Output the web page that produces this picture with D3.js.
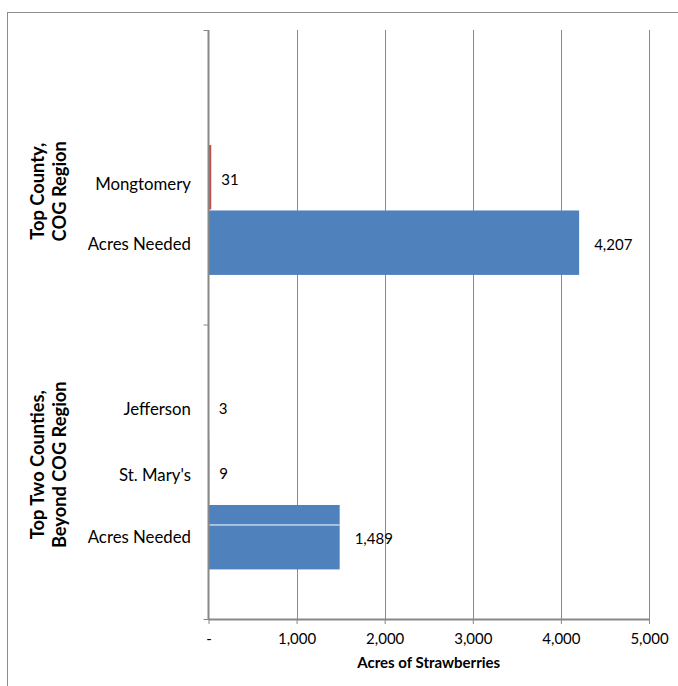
<!DOCTYPE html>
<html><head><meta charset="utf-8">
<script src="https://cdn.jsdelivr.net/npm/d3@7"></script>
<style>body{margin:0;background:#fff}svg{display:block;font-family:Lato,"Open Sans",sans-serif}</style>
</head><body><svg id="c" width="678" height="686"></svg>
<script>
const groups = ["Top County,\nCOG Region", "Top Two Counties,\nBeyond COG Region"];
const groupCats = [["", "Mongtomery", "Acres Needed"], ["Jefferson", "St. Mary's", "Acres Needed"]];
const groupValues = [[null, 31, 4207], [3, 9, 1489]];
const groupSeries = [[null, "county", "needed"], ["county", "county", "needed"]];
const valueLabels = [[null, "31", "4,207"], ["3", "9", "1,489"]];
const xTicks = [0, 1000, 2000, 3000, 4000, 5000];
const xTickLabels = ["-", "1,000", "2,000", "3,000", "4,000", "5,000"];
const colors = {county: "#C0504D", needed: "#4F81BD"};

(function () {
const svg = d3.select("#c");
svg.append("rect").attr("x", 7.5).attr("y", 12.5).attr("width", 700).attr("height", 700)
  .attr("fill", "none").attr("stroke", "#8c8c8c");

const pL = 208.5, pR = 649, pT = 30, pB = 619;
const x = d3.scaleLinear().domain([0, 5000]).range([pL, pR]);
const yg = d3.scaleBand().domain(groups).range([pT, pB]);
const ys = d3.scaleBand().domain([0, 1, 2]).range([0, yg.bandwidth()]).paddingOuter(0.75).paddingInner(0);
const groupLabelShift = [14, -7];
const catLabelShift = [[0, 7, 1.5], [3, 3, 0]];

// gridlines
svg.append("g").selectAll("line").data(xTicks.slice(1)).join("line")
  .attr("x1", d => Math.round(x(d)) + 0.5).attr("x2", d => Math.round(x(d)) + 0.5)
  .attr("y1", pT).attr("y2", pB).attr("stroke", "#8a8a8a").attr("stroke-width", 1);

// bars
groups.forEach((g, gi) => {
  const gy = yg(g);
  groupValues[gi].forEach((v, i) => {
    if (v == null) return;
    const y0 = gy + ys(i);
    svg.append("rect").attr("x", x(0)).attr("y", y0 + 0.5)
      .attr("width", x(v) - x(0)).attr("height", ys.bandwidth() - 1)
      .attr("fill", colors[groupSeries[gi][i]]);
  });
});
// thin white separator seen in lower blue bar
{
  const gy = yg(groups[1]) + ys(2);
  svg.append("line").attr("x1", x(0)).attr("x2", x(groupValues[1][2]))
    .attr("y1", gy + 20.5).attr("y2", gy + 20.5).attr("stroke", "#fff").attr("stroke-width", 1);
}

// x axis
const xAxis = d3.axisBottom(x).tickValues(xTicks).tickFormat((d, i) => xTickLabels[i]).tickSize(5).tickPadding(9);
const ax = svg.append("g").attr("transform", `translate(0,${pB})`).call(xAxis);
ax.select(".domain").attr("stroke", "#888").attr("stroke-width", 2).attr("d", `M${pL},0.5H${pR}`);
ax.selectAll(".tick line").attr("stroke", "#888");
ax.selectAll(".tick text").attr("font-size", 15).attr("fill", "#000").attr("font-family", "Lato,'Open Sans',sans-serif");

// y axis line + group ticks
svg.append("line").attr("x1", pL).attr("x2", pL).attr("y1", pT).attr("y2", pB + 1)
  .attr("stroke", "#888").attr("stroke-width", 2);
svg.append("g").selectAll("line").data([pT, yg(groups[1]), pB]).join("line")
  .attr("x1", pL - 5).attr("x2", pL).attr("y1", d => d + 0.5).attr("y2", d => d + 0.5)
  .attr("stroke", "#888").attr("stroke-width", 1);

// category labels & value labels
groups.forEach((g, gi) => {
  const gy = yg(g);
  groupCats[gi].forEach((c, i) => {
    const cy = gy + ys(i) + ys.bandwidth() / 2;
    if (c) svg.append("text").attr("x", 191).attr("y", cy + catLabelShift[gi][i]).attr("dy", "0.35em")
      .attr("text-anchor", "end").attr("font-size", 16.8).text(c);
    if (valueLabels[gi][i]) {
      const off = groupSeries[gi][i] === "needed" ? 15 : 10;
      svg.append("text").attr("x", x(groupValues[gi][i]) + off).attr("y", cy + 2).attr("dy", "0.35em")
        .attr("font-size", 15).text(valueLabels[gi][i]);
    }
  });
  const lines = g.split("\n");
  const t = svg.append("text").attr("transform", `translate(49,${gy + yg.bandwidth() / 2 + groupLabelShift[gi]}) rotate(-90)`)
    .attr("text-anchor", "middle").attr("font-size", 18.3).attr("font-weight", "bold");
  lines.forEach((l, li) => t.append("tspan").attr("x", 0).attr("y", (li - (lines.length - 1) / 2) * 22).attr("dy", "0.35em").text(l));
});

svg.append("text").attr("x", (pL + pR) / 2).attr("y", 663).attr("dy", "0.35em")
  .attr("text-anchor", "middle").attr("font-size", 15).attr("font-weight", "bold").text("Acres of Strawberries");
})();
</script></body></html>
